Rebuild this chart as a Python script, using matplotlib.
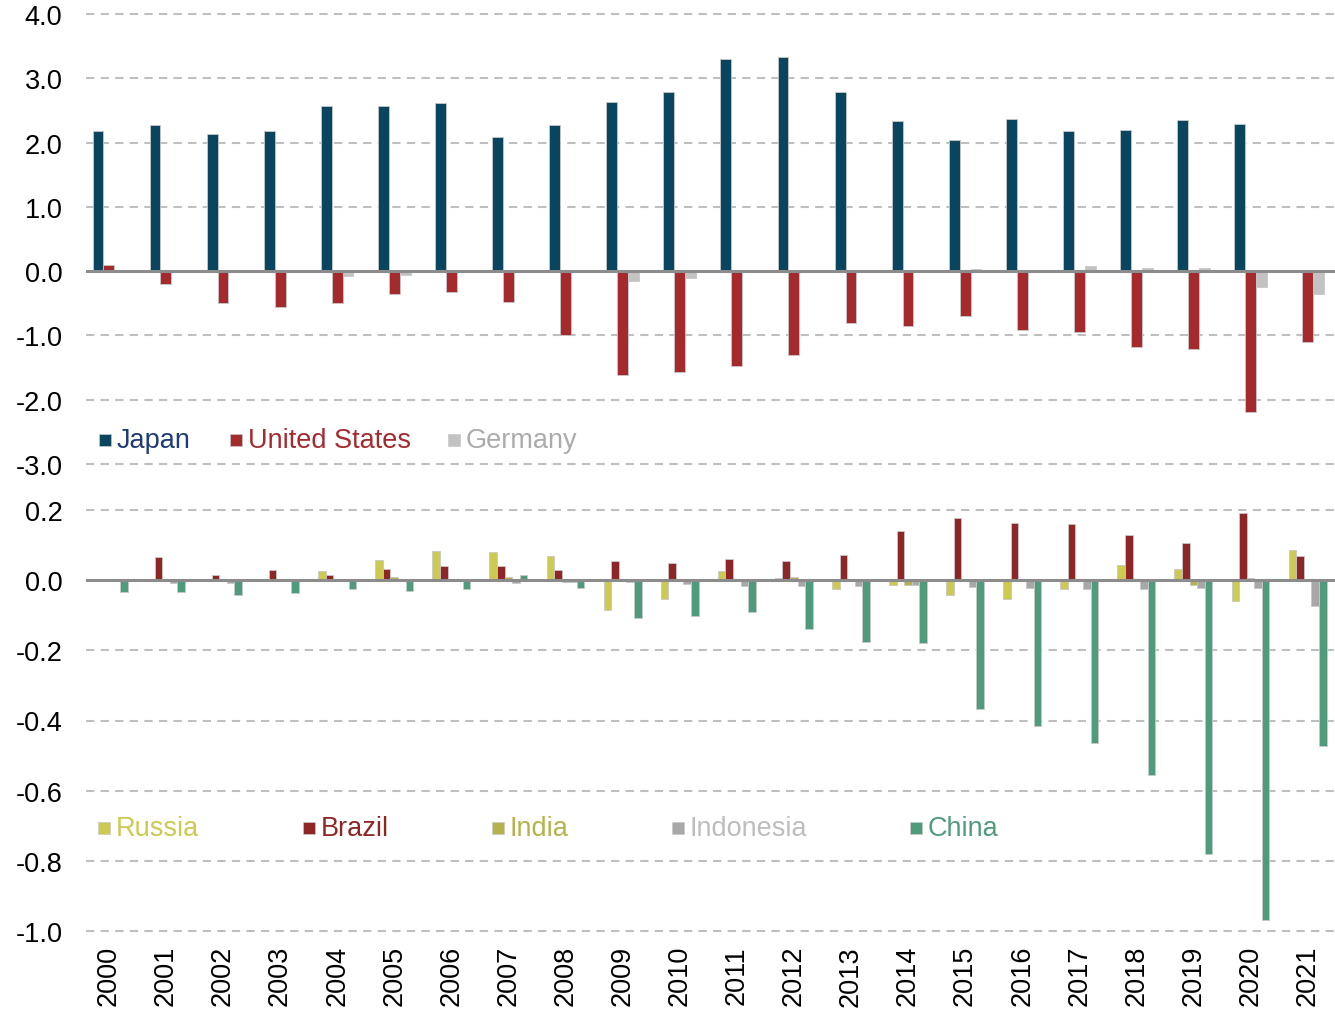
import matplotlib
matplotlib.use("Agg")
import matplotlib.pyplot as plt
import numpy as np

plt.rcParams['font.family'] = ['Liberation Sans', 'DejaVu Sans']

years = list(range(2000, 2022))

# top panel
japan = [2.18, 2.27, 2.13, 2.18, 2.57, 2.57, 2.61, 2.08, 2.27, 2.63, 2.78,
         3.30, 3.33, 2.78, 2.33, 2.04, 2.36, 2.18, 2.19, 2.35, 2.29, 0.0]
united_states = [0.10, -0.20, -0.50, -0.56, -0.50, -0.36, -0.33, -0.48, -1.00, -1.61, -1.57,
                 -1.48, -1.30, -0.80, -0.86, -0.70, -0.92, -0.94, -1.18, -1.21, -2.19, -1.10]
germany = [0.0, 0.0, 0.0, 0.0, -0.08, -0.06, 0.0, 0.0, 0.0, -0.16, -0.11,
           0.0, 0.0, 0.0, 0.0, 0.03, 0.0, 0.08, 0.05, 0.05, -0.25, -0.36]

# bottom panel
russia = [0.0, 0.0, 0.0, 0.0, 0.025, 0.057, 0.082, 0.079, 0.068, -0.084, -0.055,
          0.025, 0.007, -0.026, -0.015, -0.041, -0.055, -0.026, 0.042, 0.031, -0.059, 0.086]
brazil = [0.0, 0.065, 0.016, 0.028, 0.016, 0.031, 0.039, 0.039, 0.028, 0.054, 0.050,
          0.061, 0.054, 0.071, 0.140, 0.177, 0.162, 0.159, 0.130, 0.105, 0.192, 0.068]
india = [0.0, 0.0, 0.0, 0.0, 0.0, 0.010, 0.0, 0.010, -0.005, 0.0, 0.0,
         0.0, 0.010, 0.0, -0.015, 0.0, 0.0, 0.0, 0.0, -0.015, 0.005, 0.0]
indonesia = [0.0, -0.007, -0.009, 0.0, 0.0, 0.0, 0.0, -0.007, -0.005, -0.006, -0.010,
             -0.016, -0.016, -0.016, -0.015, -0.019, -0.023, -0.026, -0.026, -0.023, -0.023, -0.073]
china = [-0.033, -0.033, -0.041, -0.037, -0.026, -0.030, -0.026, 0.014, -0.022, -0.109, -0.103,
         -0.091, -0.138, -0.177, -0.180, -0.367, -0.416, -0.464, -0.556, -0.780, -0.970, -0.473]

top_series = [("Japan", japan, '#0A4560', '#1F3B78'),
              ("United States", united_states, '#A52A2E', '#A52A2E'),
              ("Germany", germany, '#C3C3C3', '#ABABAB')]
bot_series = [("Russia", russia, '#CCCA50', '#CCCA50'),
              ("Brazil", brazil, '#8E2627', '#8E2627'),
              ("India", india, '#B4B24A', '#B4B24A'),
              ("Indonesia", indonesia, '#A8A8A8', '#BDBDBD'),
              ("China", china, '#4F9C7C', '#4F9C7C')]

FS = 19.5
W, H = 1335, 1012
fig = plt.figure(figsize=(W / 100, H / 100), dpi=100)
left, right = 86 / W, 1.0
ax1 = fig.add_axes([left, 1 - 465 / H, right - left, 450 / H])
ax2 = fig.add_axes([left, 1 - 932 / H, right - left, 421 / H])

x = np.arange(len(years))
grid_kw = dict(color='#BFBFBF', lw=1.5, linestyle=(0, (4, 3)), clip_on=False, zorder=0)


def style(ax, ticks, ylim):
    ax.set_xlim(-0.40, 21.48)
    ax.set_ylim(*ylim)
    for s in ax.spines.values():
        s.set_visible(False)
    ax.set_yticks(ticks)
    ax.set_yticklabels(['%.1f' % t for t in ticks])
    ax.tick_params(axis='y', length=0, pad=17, labelsize=FS)
    for t in ticks:
        if abs(t) < 1e-9:
            ax.axhline(0, color='#8C8C8C', lw=2.2, zorder=3)
        else:
            ax.axhline(t, **grid_kw)


# top panel bars
bw = 0.19
for i, (name, vals, c, tc) in enumerate(top_series):
    ax1.bar(x + (i - 1) * bw, vals, width=bw, color=c, edgecolor='#C8C8C8', lw=0.6, zorder=2)
style(ax1, [4.0, 3.0, 2.0, 1.0, 0.0, -1.0, -2.0, -3.0], (-3.0, 4.0))
ax1.set_xticks([])

# bottom panel bars
bw2 = 0.133
for i, (name, vals, c, tc) in enumerate(bot_series):
    ax2.bar(x + (i - 2) * bw2, vals, width=bw2, color=c, edgecolor='#C8C8C8', lw=0.6, zorder=2)
style(ax2, [0.2, 0.0, -0.2, -0.4, -0.6, -0.8, -1.0], (-1.0, 0.2))
ax2.set_xticks(x)
ax2.set_xticklabels([str(y) for y in years], rotation=90, fontsize=FS)
ax2.tick_params(axis='x', length=0, pad=10)

# legends (patch + coloured text), pixel positions
top_leg_x = [105, 236, 454]
bot_leg_x = [104, 309, 498, 678, 916]


def legend(series, xs, ypx):
    for (name, vals, c, tc), px in zip(series, xs):
        fig.patches.append(plt.Rectangle(((px - 6) / W, 1 - (ypx + 6) / H), 12 / W, 12 / H,
                                         transform=fig.transFigure, color=c, ec='#C8C8C8', lw=0.5))
        fig.text((px + 12) / W, 1 - ypx / H, name, color=tc, fontsize=FS,
                 va='center', ha='left')


legend(top_series, top_leg_x, 441)
legend(bot_series, bot_leg_x, 829)

fig.savefig("out.png", dpi=100)
